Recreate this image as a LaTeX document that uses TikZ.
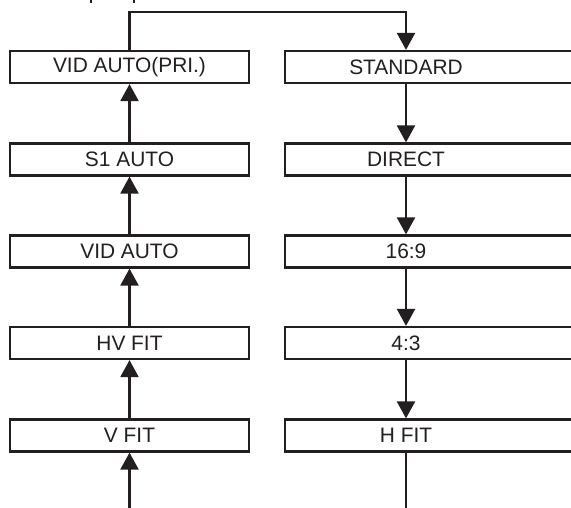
\documentclass[tikz,border=0pt]{standalone}
\usepackage{fontspec}
\setmainfont{Liberation Sans}
\usetikzlibrary{arrows.meta}
\definecolor{ink}{RGB}{35,31,32}
\begin{document}
\begin{tikzpicture}[x=1pt,y=-1pt,
  txt/.style={inner sep=0pt, text=ink, font=\fontsize{20.9}{24}\selectfont},
  lbox/.style={txt, draw=ink, line width=2.2pt, minimum height=32pt, minimum width=239pt},
  rbox/.style={draw=ink, line width=2.2pt, minimum height=32pt, minimum width=310pt, inner sep=0pt},
  conn/.style={draw=ink, line width=2.2pt, -{Triangle[width=18pt,length=17pt]}},
  plain/.style={draw=ink, line width=2.2pt}]
\useasboundingbox (0,0) rectangle (571,508);
\clip (0,0) rectangle (571,508);
% left column
\node[lbox] (l1) at (129.5,67) {VID AUTO(PRI.)};
\node[lbox] (l2) at (129.5,159.5) {S1 AUTO};
\node[lbox] (l3) at (129.5,251.5) {VID AUTO};
\node[lbox] (l4) at (129.5,343) {HV FIT};
\node[lbox] (l5) at (129.5,435.5) {V FIT};
% right column (boxes run past the right edge)
\node[rbox] (r1) at (440,67) {};
\node[rbox] (r2) at (440,159.5) {};
\node[rbox] (r3) at (440,251.5) {};
\node[rbox] (r4) at (440,343) {};
\node[rbox] (r5) at (440,435.5) {};
\node[txt] (t1) at (406,67) {STANDARD};
\node[txt] (t2) at (406,159.5) {DIRECT};
\node[txt] (t3) at (406,251.5) {16:9};
\node[txt] (t4) at (406,343) {4:3};
\node[txt] (t5) at (406,435.5) {H FIT};
% connectors
\coordinate (topturn) at (406,12);
\coordinate (lbot) at (129.5,512);
\coordinate (rbot) at (406,512);
\draw[conn] (l1.north) |- (topturn) -- (r1.north -| topturn);
\draw[conn] (l2.north) -- (l1.south);
\draw[conn] (l3.north) -- (l2.south);
\draw[conn] (l4.north) -- (l3.south);
\draw[conn] (l5.north) -- (l4.south);
\draw[conn] (lbot) -- (l5.south);
\draw[conn] (r1.south -| t1) -- (r2.north -| t2);
\draw[conn] (r2.south -| t2) -- (r3.north -| t3);
\draw[conn] (r3.south -| t3) -- (r4.north -| t4);
\draw[conn] (r4.south -| t4) -- (r5.north -| t5);
\draw[plain] (r5.south -| t5) -- (rbot);
% cropped fragments at the top edge
\draw[draw=ink, line width=1.3pt] (91,0) -- (91,3);
\draw[draw=ink, line width=1.3pt] (134,0) -- (134,3);
\end{tikzpicture}
\end{document}
